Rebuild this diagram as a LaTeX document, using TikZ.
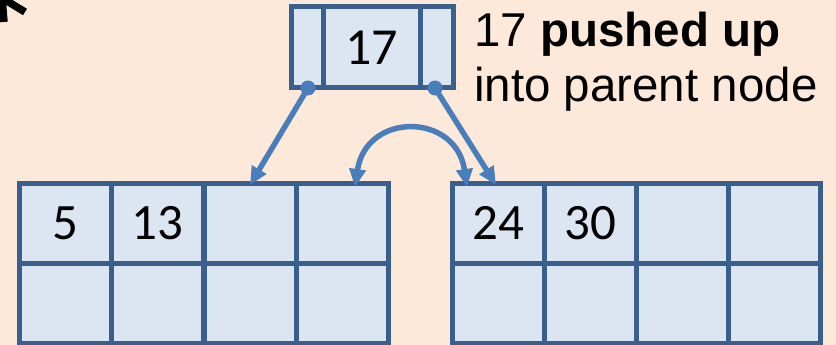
\documentclass[tikz,border=0pt]{standalone}
\usepackage{fontspec}
\setmainfont{Carlito}
\newfontfamily\arialfont{Liberation Sans}
\usetikzlibrary{arrows.meta}
\definecolor{bgc}{HTML}{FDE9D9}
\definecolor{cellfill}{HTML}{DCE6F2}
\definecolor{celldraw}{HTML}{3A5F8C}
\definecolor{arrowc}{HTML}{4A7EBB}
\tikzset{
  cell/.style={draw=celldraw, fill=cellfill, line width=5pt, inner sep=0pt,
    minimum width=92pt, minimum height=80pt, font=\fontsize{51}{55}\selectfont},
  ptrcell/.style={draw=celldraw, fill=cellfill, line width=5pt, inner sep=0pt,
    minimum height=81pt},
  conn/.style={draw=arrowc, line width=5.5pt, -{Triangle[length=18pt,width=16pt]}},
  dconn/.style={draw=arrowc, line width=5.5pt, {Triangle[length=18pt,width=16pt]}-{Triangle[length=18pt,width=16pt]}},
  dotc/.style={circle, fill=arrowc, inner sep=0pt, minimum size=15pt},
  lbl/.style={font=\arialfont\fontsize{47.5}{55}\selectfont, anchor=base west, inner sep=0pt}
}
\begin{document}
\begin{tikzpicture}[x=1pt,y=-1pt]
\useasboundingbox (0,0) rectangle (836,345);
\fill[bgc] (0,0) rectangle (836,345);
% partial black arrow top-left
\draw[line width=7.5pt, black] (4,22) -- (2,-2) -- (25,12);
% top node
\node[ptrcell, minimum width=32pt] (tl) at (307,47.5) {};
\node[ptrcell, minimum width=97pt, font=\fontsize{52}{55}\selectfont] (tk) at (371.5,47.5) {\raisebox{-2pt}{17}};
\node[ptrcell, minimum width=33pt] (tr) at (436.5,47.5) {};
% left leaf
\node[cell] (l1) at (65,223) {\raisebox{-1.5pt}{5}};
\node[cell] (l2) at (157,223) {\raisebox{-1.5pt}{13}};
\node[cell] (l3) at (250,223) {};
\node[cell] (l4) at (342,223) {};
\node[cell] (l5) at (65,303) {};
\node[cell] (l6) at (157,303) {};
\node[cell] (l7) at (250,303) {};
\node[cell] (l8) at (342,303) {};
% right leaf
\node[cell] (r1) at (498,223) {\raisebox{-1.5pt}{24}};
\node[cell] (r2) at (590,223) {\raisebox{-1.5pt}{30}};
\node[cell] (r3) at (682,223) {};
\node[cell] (r4) at (774,223) {};
\node[cell] (r5) at (498,303) {};
\node[cell] (r6) at (590,303) {};
\node[cell] (r7) at (682,303) {};
\node[cell] (r8) at (774,303) {};
% pointer dots
\node[dotc] (dl) at (308,88) {};
\node[dotc] (dr) at (435,88) {};
\coordinate (al) at (250,185);
\coordinate (ar) at (496,185);
\coordinate (cl) at (355,187);
\coordinate (cr) at (467,187);
\draw[conn] (dl.center) -- (al);
\draw[conn] (dr.center) -- (ar);
\draw[dconn] (cl) .. controls (366,112) and (456,112) .. (cr);
% label
\node[lbl] (t1) at (474,47) {17 \textbf{pushed up}};
\node[lbl] (t2) at (474,102) {into parent node};
\end{tikzpicture}
\end{document}
